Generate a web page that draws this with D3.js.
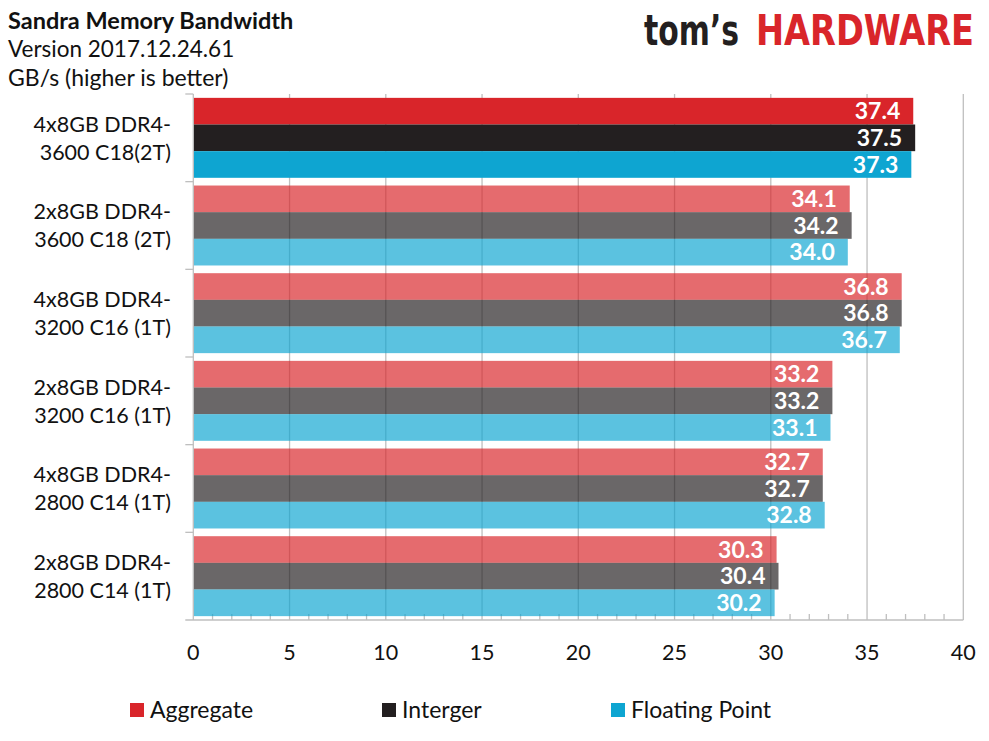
<!DOCTYPE html>
<html><head><meta charset="utf-8">
<script src="https://cdn.jsdelivr.net/npm/d3@7"></script>
<style>body{margin:0;background:#fff}svg{display:block}text{font-family:Lato,"Open Sans",sans-serif}</style>
</head><body><svg id="c" width="989" height="741"></svg>
<script>
const categories = [
  ["4x8GB DDR4-","3600 C18(2T)"],
  ["2x8GB DDR4-","3600 C18 (2T)"],
  ["4x8GB DDR4-","3200 C16 (1T)"],
  ["2x8GB DDR4-","3200 C16 (1T)"],
  ["4x8GB DDR4-","2800 C14 (1T)"],
  ["2x8GB DDR4-","2800 C14 (1T)"]
];
const seriesNames = ["Aggregate","Interger","Floating Point"];
const aggregate = [37.4, 34.1, 36.8, 33.2, 32.7, 30.3];
const integer   = [37.5, 34.2, 36.8, 33.2, 32.7, 30.4];
const floating  = [37.3, 34.0, 36.7, 33.1, 32.8, 30.2];
const xTicks = [0,5,10,15,20,25,30,35,40];
const highlighted = 0;

const colors = ["#d9252a","#231f20","#0ea5d1"];
const values = [aggregate, integer, floating];

const svg = d3.select("#c");
const L = 193.3, R = 963.3, T = 94, B = 620;
const x = d3.scaleLinear().domain([0,40]).range([L,R]);
const y = d3.scaleBand().domain(d3.range(categories.length)).range([T,B]).paddingInner(0.088).paddingOuter(0.044);
const ys = d3.scaleBand().domain(d3.range(3)).range([0,y.bandwidth()]);

// titles
svg.append("text").attr("x",8).attr("y",29).attr("font-size",23.5).attr("font-weight","bold").attr("fill","#111").text("Sandra Memory Bandwidth");
svg.append("text").attr("x",8).attr("y",57).attr("font-size",22.5).attr("fill","#111").text("Version 2017.12.24.61");
svg.append("text").attr("x",8).attr("y",86).attr("font-size",23).attr("fill","#111").text("GB/s (higher is better)");

// logo
const logoFont = "'DejaVu Sans Condensed','DejaVu Sans',sans-serif";
svg.append("text").attr("transform","translate(644,45) scale(1,1.1)").attr("font-size",38).attr("font-weight","bold")
  .attr("fill","#231f20").attr("textLength",95).attr("lengthAdjust","spacingAndGlyphs")
  .style("font-family",logoFont).text("tom’s");
svg.append("text").attr("transform","translate(756,45) scale(1,1.1)").attr("font-size",38).attr("font-weight","bold")
  .attr("fill","#d9252a").attr("textLength",218).attr("lengthAdjust","spacingAndGlyphs")
  .style("font-family",logoFont).text("HARDWARE");

// gridlines
svg.append("g").selectAll("line").data(xTicks.slice(1)).join("line")
  .attr("x1",d=>x(d)).attr("x2",d=>x(d)).attr("y1",T).attr("y2",B)
  .attr("stroke","#bfbfbf").attr("stroke-width",1.3);

// minor ticks
svg.append("g").selectAll("line").data(d3.range(1,40).filter(d=>d%5)).join("line")
  .attr("x1",d=>x(d)).attr("x2",d=>x(d)).attr("y1",B-6).attr("y2",B)
  .attr("stroke","#bfbfbf").attr("stroke-width",1.3);

// bars
const rows = [];
categories.forEach((c,i)=>values.forEach((v,s)=>rows.push({i,s,v:v[i]})));
const g = svg.append("g");
g.selectAll("rect").data(rows).join("rect")
  .attr("x",x(0)).attr("y",d=>y(d.i)+ys(d.s)).attr("width",d=>x(d.v)-x(0)).attr("height",ys.bandwidth())
  .attr("fill",d=>colors[d.s]).attr("fill-opacity",d=>d.i===highlighted?1:0.68);
g.selectAll("text").data(rows).join("text")
  .attr("x",d=>x(d.v)-13).attr("y",d=>y(d.i)+ys(d.s)+ys.bandwidth()/2).attr("dy","0.36em")
  .attr("text-anchor","end").attr("fill","#fff").attr("font-weight","bold").attr("font-size",23)
  .text(d=>d.v.toFixed(1));

// axes lines
svg.append("line").attr("x1",L-8).attr("x2",R).attr("y1",B).attr("y2",B).attr("stroke","#bfbfbf").attr("stroke-width",1.3);
svg.append("line").attr("x1",L).attr("x2",L).attr("y1",T).attr("y2",B).attr("stroke","#bfbfbf").attr("stroke-width",1.3);
svg.append("g").selectAll("line").data(d3.range(categories.length)).join("line")
  .attr("x1",L-8).attr("x2",L).attr("y1",d=>y(d)-y.step()*y.paddingInner()/2).attr("y2",d=>y(d)-y.step()*y.paddingInner()/2)
  .attr("stroke","#bfbfbf").attr("stroke-width",1.3);

// x tick labels
svg.append("g").selectAll("text").data(xTicks).join("text")
  .attr("x",d=>x(d)).attr("y",660).attr("text-anchor","middle").attr("font-size",21.5).attr("fill","#111").text(d=>d);

// category labels
const cl = svg.append("g").selectAll("text").data(categories).join("text")
  .attr("text-anchor","end").attr("font-size",21.5).attr("fill","#111");
cl.each(function(d,i){
  const cy = y(i)+y.bandwidth()/2;
  d3.select(this).selectAll("tspan").data(d).join("tspan")
    .attr("x",171).attr("y",(t,k)=>cy+(k===0?-14:14)).attr("dy","0.36em").text(t=>t);
});

// legend
const lx = [130, 382, 611];
const lg = svg.append("g").selectAll("g").data(seriesNames).join("g").attr("transform",(d,i)=>`translate(${lx[i]},703)`);
lg.append("rect").attr("width",14).attr("height",14).attr("fill",(d,i)=>colors[i]);
lg.append("text").attr("x",20).attr("y",7).attr("dy","0.36em").attr("font-size",23).attr("fill","#111").text(d=>d);
</script></body></html>
